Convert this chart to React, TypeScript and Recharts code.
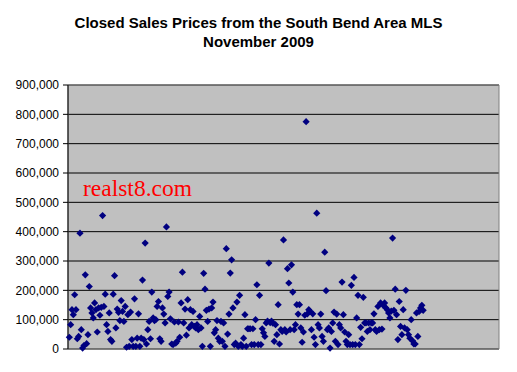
import React from 'react';
import { ScatterChart, Scatter, XAxis, YAxis, CartesianGrid, ReferenceArea } from 'recharts';

// closed sale prices, in thousands of dollars, in listing order
const closedPricesK = [
  40, 83, 134, 117, 185, 134, 35, 43, 395, 66, 3, 12, 253, 18, 49, 213, 140, 123, 106, 157, 134, 58, 140, 115, 142, 455, 145, 187, 83, 60, 123, 32, 26, 187, 250, 72, 136, 125, 97, 165, 128, 94, 145, 6,
  117, 9, 126, 32, 9, 171, 9, 37, 120, 9, 37, 235, 32, 361, 17, 66, 94, 35, 194, 106, 97, 100, 145, 162, 35, 26, 140, 119, 89, 416, 179, 194, 103, 17, 15, 92, 20, 26, 92, 40, 157, 262, 89, 136, 47, 168, 72, 134, 83,
  128, 77, 72, 83, 66, 111, 72, 9, 258, 204, 132, 94, 136, 9, 140, 160, 55, 66, 97, 37, 26, 94, 26, 89, 9, 342, 51, 119, 259, 304, 140, 15, 20, 160, 9, 183, 15, 9, 37, 117, 9, 69, 69, 69, 15, 69, 15, 100, 219, 15, 183, 15, 69, 55, 43, 89,
  95, 293, 90, 95, 88, 26, 83, 49, 151, 17, 66, 60, 372, 66, 58, 274, 225, 66, 287, 194, 66, 83, 151, 119, 151, 72, 23, 58, 115, 775, 120, 134, 128, 66, 120, 40, 15, 463, 83, 72, 119, 43, 26, 330, 199, 66, 72, 3, 60, 89, 126, 26, 119, 15, 83, 72, 228,
  117, 58, 26, 15, 49, 15, 217, 15, 244, 15, 106, 183, 15, 74, 35, 176, 89, 89, 60, 89, 66, 89, 89, 120, 66, 60, 145, 66, 157, 68, 149, 157, 140, 134, 123, 106, 129, 378, 132, 204, 117, 32, 162, 77, 49, 134, 72, 200, 66, 49, 37, 100, 28, 17, 17, 123, 43, 128, 140, 149, 132,
];

const priceTicks = [0, 100000, 200000, 300000, 400000, 500000, 600000, 700000, 800000, 900000];

const titleLines = ['Closed Sales Prices from the South Bend Area MLS', 'November 2009'];
const watermark = 'realst8.com';

const chartData = closedPricesK.map((p, i) => ({ sale: i + 1, price: p * 1000 }));

const Diamond = (props: any) => {
  const { cx, cy } = props;
  const r = 3.6;
  return <polygon points={`${cx},${cy - r} ${cx + r},${cy} ${cx},${cy + r} ${cx - r},${cy}`} fill="#000080" />;
};

const App: React.FC = () => {
  return (
    <div style={{ position: 'absolute', left: 0, top: 0, width: 517, height: 372, background: '#fff' }}>
      <div
        style={{
          position: 'absolute', left: 0, top: 13, width: 517, textAlign: 'center',
          fontFamily: '"Liberation Sans", Arial, sans-serif', fontWeight: 'bold', fontSize: 15, lineHeight: '19px', color: '#000',
        }}
      >
        {titleLines.map((t) => <div key={t}>{t}</div>)}
      </div>
      <ScatterChart width={517} height={372} margin={{ top: 85, right: 18, left: 0, bottom: 23 }}>
        <CartesianGrid vertical={false} stroke="#000" fill="#C0C0C0" fillOpacity={1} />
        <ReferenceArea x1={0} x2={324} y1={0} y2={900000} fill="none" stroke="#808080" strokeWidth={1} />
        <XAxis type="number" dataKey="sale" domain={[0, 324]} height={0} tick={false} tickLine={false} axisLine={{ stroke: '#000' }} />
        <YAxis
          type="number"
          dataKey="price"
          domain={[0, 900000]}
          ticks={priceTicks}
          width={68}
          interval={0}
          tickSize={5}
          tickMargin={4}
          axisLine={{ stroke: '#000' }}
          tickLine={{ stroke: '#000' }}
          tick={{ fill: '#000', fontSize: 12, fontFamily: '"Liberation Sans", Arial, sans-serif' }}
          tickFormatter={(v: number) => v.toLocaleString('en-US')}
        />
        <Scatter data={chartData} shape={Diamond} isAnimationActive={false} />
      </ScatterChart>
      <div
        style={{
          position: 'absolute', left: 83, top: 175, color: '#FF0000',
          fontFamily: '"Liberation Serif", "Times New Roman", serif', fontSize: 23.5,
        }}
      >
        {watermark}
      </div>
    </div>
  );
};

export default App;
